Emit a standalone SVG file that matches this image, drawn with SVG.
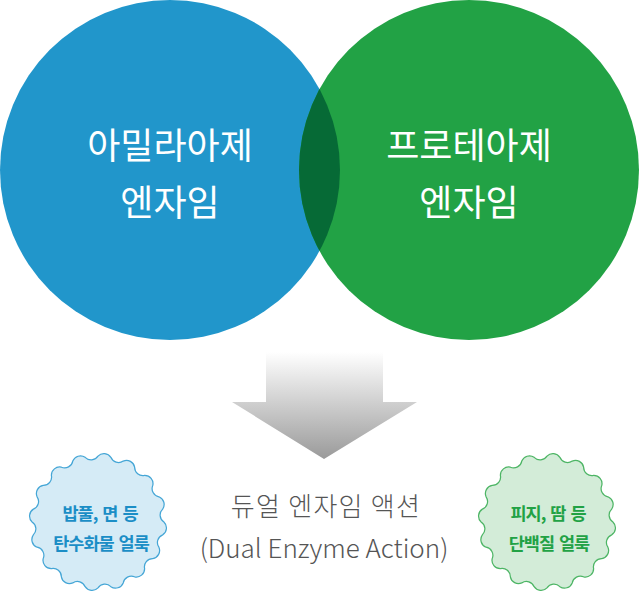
<svg xmlns="http://www.w3.org/2000/svg" width="639" height="600" viewBox="0 0 639 600">
<defs>
<linearGradient id="arrowGrad" x1="0" y1="352" x2="0" y2="459" gradientUnits="userSpaceOnUse">
<stop offset="0" stop-color="#ffffff"/>
<stop offset="1" stop-color="#9a9a9a"/>
</linearGradient>
<clipPath id="clipBlue"><circle cx="170" cy="170" r="170"/></clipPath>
<path id="wave" d="M64,0 A8,8 0 0 1 62.77,12.49 A8,8 0 0 0 59.13,24.49 A8,8 0 0 1 53.21,35.56 A8,8 0 0 0 45.25,45.25 A8,8 0 0 1 35.56,53.21 A8,8 0 0 0 24.49,59.13 A8,8 0 0 1 12.49,62.77 A8,8 0 0 0 0,64 A8,8 0 0 1 -12.49,62.77 A8,8 0 0 0 -24.49,59.13 A8,8 0 0 1 -35.56,53.21 A8,8 0 0 0 -45.25,45.25 A8,8 0 0 1 -53.21,35.56 A8,8 0 0 0 -59.13,24.49 A8,8 0 0 1 -62.77,12.49 A8,8 0 0 0 -64,0 A8,8 0 0 1 -62.77,-12.49 A8,8 0 0 0 -59.13,-24.49 A8,8 0 0 1 -53.21,-35.56 A8,8 0 0 0 -45.25,-45.25 A8,8 0 0 1 -35.56,-53.21 A8,8 0 0 0 -24.49,-59.13 A8,8 0 0 1 -12.49,-62.77 A8,8 0 0 0 0,-64 A8,8 0 0 1 12.49,-62.77 A8,8 0 0 0 24.49,-59.13 A8,8 0 0 1 35.56,-53.21 A8,8 0 0 0 45.25,-45.25 A8,8 0 0 1 53.21,-35.56 A8,8 0 0 0 59.13,-24.49 A8,8 0 0 1 62.77,-12.49 A8,8 0 0 0 64,0 Z"/>
</defs>
<style>
.big{font-family:"Noto Sans CJK KR","Noto Sans",sans-serif;font-size:36px;fill:#ffffff;text-anchor:middle}
.center{font-family:"Noto Sans CJK KR","Noto Sans",sans-serif;font-size:26px;font-weight:300;fill:#555555;text-anchor:middle}
.badge{font-family:"Noto Sans CJK KR","Noto Sans",sans-serif;font-size:17.5px;font-weight:bold;letter-spacing:-1px;word-spacing:2px;text-anchor:middle}
</style>
<g id="amylase">
<circle cx="170" cy="170" r="170" fill="#2196cb"/>
</g>
<g id="protease">
<circle cx="469" cy="170" r="170" fill="#22a245"/>
</g>
<g id="overlap">
<circle cx="469" cy="170" r="170" fill="#066a36" clip-path="url(#clipBlue)"/>
</g>
<g id="amylase-label">
<text class="big" x="170" y="159">아밀라아제</text>
<text class="big" x="170" y="216">엔자임</text>
</g>
<g id="protease-label">
<text class="big" x="469" y="159">프로테아제</text>
<text class="big" x="469" y="216">엔자임</text>
</g>
<g id="connectors">
<path d="M266,352 H383 V402 H417 L324,459 L232,402 H266 Z" fill="url(#arrowGrad)"/>
</g>
<g id="badge-carb">
<use href="#wave" transform="translate(98,522) scale(1.03)" fill="#d5ebf6" stroke="#45a6d6" stroke-width="1.2"/>
<text class="badge" x="100" y="520" fill="#1b8ec6">밥풀, 면 등</text>
<text class="badge" x="101" y="550" fill="#1b8ec6">탄수화물 얼룩</text>
</g>
<g id="dual-action">
<text class="center" x="326" y="516" letter-spacing="1.3">듀얼 엔자임 액션</text>
<text class="center" x="324" y="558">(Dual Enzyme Action)</text>
</g>
<g id="badge-protein">
<use href="#wave" transform="translate(547,522) scale(1.03)" fill="#d3ecd8" stroke="#4db565" stroke-width="1.2"/>
<text class="badge" x="548" y="520" fill="#22a245">피지, 땀 등</text>
<text class="badge" x="549" y="550" fill="#22a245">단백질 얼룩</text>
</g>
</svg>
